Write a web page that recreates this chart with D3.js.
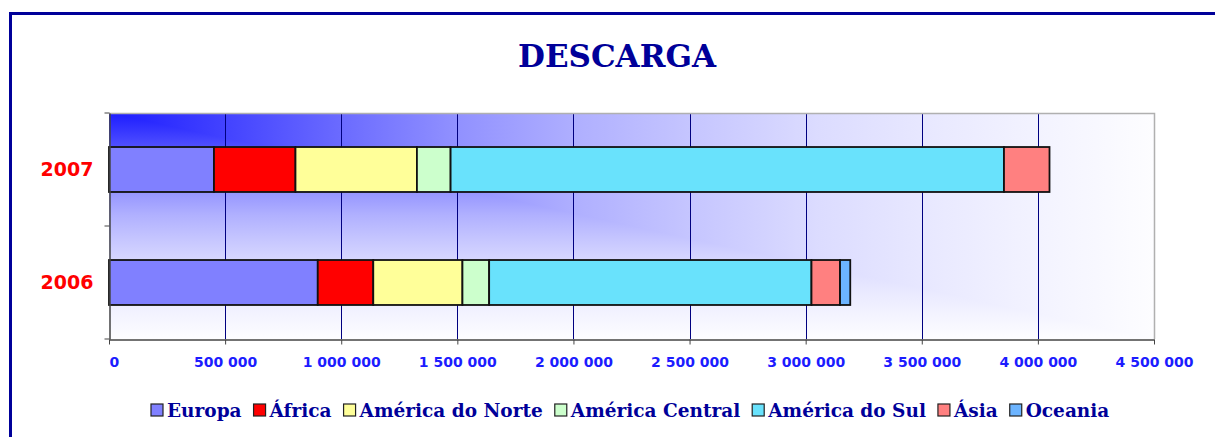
<!DOCTYPE html>
<html>
<head>
<meta charset="utf-8">
<script src="https://cdn.jsdelivr.net/npm/d3@7"></script>
<style>
  body { margin: 0; background: #fff; }
  svg { display: block; }
</style>
</head>
<body>
<script>
// data
const years = ["2007", "2006"];
const regions = ["Europa", "África", "América do Norte", "América Central", "América do Sul", "Ásia", "Oceania"];
const values2007 = [452000, 351000, 523000, 145000, 2383000, 196000, 0];
const values2006 = [899000, 239000, 384000, 115000, 1388000, 123000, 44000];
const xTicks = [0, 500000, 1000000, 1500000, 2000000, 2500000, 3000000, 3500000, 4000000, 4500000];

const colors = ["#8080ff", "#ff0000", "#ffff99", "#ccffcc", "#69e2fc", "#ff8080", "#6cb4ff"];

const W = 1215, H = 437;
const margin = { top: 113, right: 61, bottom: 98, left: 109 },
      width = W - margin.left - margin.right,
      height = H - margin.top - margin.bottom;

const svg = d3.select("body").append("svg")
    .attr("width", W)
    .attr("height", H);

// outer frame
svg.append("rect")
    .attr("x", 10.5).attr("y", 13.5)
    .attr("width", W).attr("height", H)
    .attr("fill", "#fff")
    .attr("stroke", "#000099")
    .attr("stroke-width", 3);

svg.append("text")
    .attr("x", 617).attr("y", 67)
    .attr("text-anchor", "middle")
    .attr("font-family", "DejaVu Serif")
    .attr("font-weight", "bold")
    .attr("font-size", 31)
    .attr("fill", "#000099")
    .text("DESCARGA");

const x = d3.scaleLinear().domain([0, 4500000]).range([0, width]);
const y = d3.scaleBand().domain(years).range([0, height])
    .paddingInner(0.602).paddingOuter(0.301);

// gradient background: t = max(x/W, y/H)
const stops = [[0, "#1c1cff"], [0.11, "#4242ff"], [0.22, "#6a6aff"], [0.33, "#9090ff"],
               [0.45, "#b0b0ff"], [0.56, "#c6c6ff"], [0.68, "#dcdcff"], [0.8, "#eaeaff"],
               [0.9, "#f4f4ff"], [1, "#fdfdff"]];
const defs = svg.append("defs");
[["gh", 1, 0], ["gv", 0, 1]].forEach(([id, x2, y2]) => {
  defs.append("linearGradient")
      .attr("id", id)
      .attr("x1", 0).attr("y1", 0).attr("x2", x2).attr("y2", y2)
    .selectAll("stop")
    .data(stops)
    .enter().append("stop")
      .attr("offset", d => d[0])
      .attr("stop-color", d => d[1]);
});

const g = svg.append("g")
    .attr("transform", `translate(${margin.left},${margin.top})`);

g.append("rect")
    .attr("width", width).attr("height", height)
    .attr("fill", "url(#gv)");
g.append("path")
    .attr("d", `M0,0L${width},0L${width},${height}Z`)
    .attr("fill", "url(#gh)");

// gridlines
g.append("g")
  .selectAll("line")
  .data(xTicks.slice(1, -1))
  .enter().append("line")
    .attr("x1", d => Math.round(x(d)) + 0.5)
    .attr("x2", d => Math.round(x(d)) + 0.5)
    .attr("y1", 0).attr("y2", height)
    .attr("stroke", "#000080")
    .attr("stroke-width", 1);

// plot border (top / right)
g.append("path")
    .attr("d", `M0,0.5H${width + 0.5}V${height}`)
    .attr("fill", "none")
    .attr("stroke", "#b0b0b0")
    .attr("stroke-width", 1.5);

// stacked bars
const rows = years.map((yr, i) => {
  const vals = i === 0 ? values2007 : values2006;
  let acc = 0;
  return vals.map((v, j) => {
    const seg = { year: yr, region: j, x0: acc, x1: acc + v };
    acc += v;
    return seg;
  }).filter(s => s.x1 > s.x0);
});

g.append("g")
  .selectAll("rect")
  .data(rows.flat())
  .enter().append("rect")
    .attr("x", d => x(d.x0))
    .attr("y", d => y(d.year))
    .attr("width", d => x(d.x1) - x(d.x0))
    .attr("height", y.bandwidth())
    .attr("fill", d => colors[d.region])
    .attr("stroke", "#111")
    .attr("stroke-width", 1.8);

// x axis
const xAxis = g.append("g")
    .attr("transform", `translate(0,${height + 0.5})`)
    .call(d3.axisBottom(x)
      .tickValues(xTicks)
      .tickSizeInner(5).tickSizeOuter(0)
      .tickFormat(d => d3.format(",")(d).replace(/,/g, " ")));
xAxis.select(".domain").attr("stroke", "#444").attr("stroke-width", 1.5);
xAxis.selectAll(".tick line").attr("stroke", "#444");
xAxis.selectAll(".tick text")
    .attr("y", 18)
    .attr("font-family", "DejaVu Sans")
    .attr("font-weight", "bold")
    .attr("font-size", 14)
    .attr("fill", "#1c1cff")
    .attr("text-anchor", d => d === 0 ? "start" : "middle");

// y axis
const yAxis = g.append("g")
    .attr("transform", "translate(0.5,0)")
    .call(d3.axisLeft(y).tickSize(0).tickPadding(16));
yAxis.select(".domain").attr("stroke", "#444").attr("stroke-width", 1.5);
yAxis.selectAll(".tick text")
    .attr("font-family", "DejaVu Sans")
    .attr("font-weight", "bold")
    .attr("font-size", 19)
    .attr("fill", "#ff0000");
// category separators
yAxis.append("g")
  .selectAll("line")
  .data([0, y.step(), height])
  .enter().append("line")
    .attr("x1", -5).attr("x2", 0)
    .attr("y1", d => d).attr("y2", d => d)
    .attr("stroke", "#444");

// legend
const legend = svg.append("g")
    .attr("font-family", "DejaVu Serif")
    .attr("font-weight", "bold")
    .attr("font-size", 18.5)
    .attr("fill", "#000099");

const items = legend.selectAll("g")
  .data(regions)
  .enter().append("g");

items.append("rect")
    .attr("width", 12).attr("height", 12)
    .attr("y", -13)
    .attr("fill", (d, i) => colors[i])
    .attr("stroke", "#222")
    .attr("stroke-width", 1.2);

items.append("text")
    .attr("x", 16)
    .text(d => d);

let lx = 0;
const offsets = [];
items.each(function() {
  offsets.push(lx);
  lx += 16 + this.querySelector("text").getComputedTextLength() + 12;
});
const total = lx - 12;
items.attr("transform", (d, i) => `translate(${offsets[i]},0)`);
legend.attr("transform", `translate(${Math.round(630 - total / 2)},417)`);
</script>
</body>
</html>
